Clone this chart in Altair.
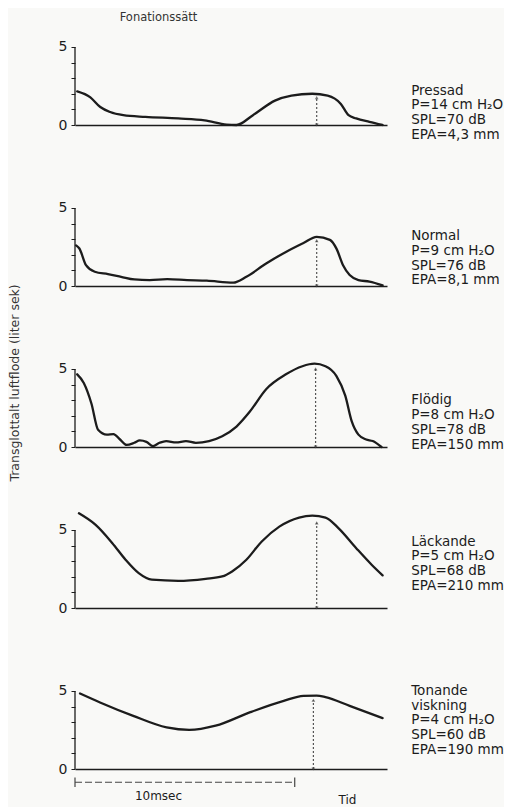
import altair as alt
import pandas as pd

# ---------------- data: time (msec) and transglottal airflow (liter/sek) ----------------
t_pressad = [0.1, 0.7, 1.15, 1.6, 2.2, 3.2, 4.7, 5.9, 6.9, 7.35, 8.1, 9.1, 9.85, 10.8, 11.5, 12.1, 12.45, 12.8, 13.4, 14.0]
v_pressad = [2.15, 1.77, 1.15, 0.83, 0.63, 0.52, 0.42, 0.3, 0.03, 0.0, 0.63, 1.56, 1.88, 2.0, 1.88, 1.35, 0.63, 0.42, 0.2, 0.0]

t_normal = [0.05, 0.2, 0.5, 0.9, 1.5, 2.1, 2.7, 3.4, 4.2, 5.1, 6.0, 7.2, 7.8, 8.7, 9.6, 10.4, 11.0, 11.6, 11.9, 12.2, 12.5, 12.9, 13.4, 14.0]
v_normal = [2.6, 2.4, 1.33, 0.91, 0.76, 0.59, 0.42, 0.38, 0.44, 0.38, 0.34, 0.21, 0.59, 1.44, 2.18, 2.75, 3.15, 2.95, 2.39, 1.33, 0.70, 0.38, 0.28, 0.04]

t_flodig = [0.1, 0.4, 0.75, 1.05, 1.45, 1.75, 2.05, 2.35, 2.7, 2.95, 3.25, 3.55, 3.85, 4.15, 4.6, 5.05, 5.5, 6.1, 6.7, 7.35, 7.95, 8.7, 9.6, 10.35, 10.9, 11.4, 11.9, 12.3, 12.6, 12.9, 13.25, 13.55, 13.95]
v_flodig = [4.65, 4.1, 2.77, 1.1, 0.79, 0.83, 0.48, 0.13, 0.27, 0.42, 0.33, 0.06, 0.27, 0.38, 0.29, 0.38, 0.27, 0.38, 0.69, 1.31, 2.25, 3.7, 4.65, 5.17, 5.33, 5.17, 4.54, 3.29, 1.62, 0.79, 0.48, 0.38, 0.0]

t_lackande = [0.18, 0.94, 1.7, 2.3, 2.9, 3.5, 4.7, 5.95, 6.7, 7.15, 7.8, 8.5, 9.3, 10.2, 10.8, 11.4, 12.0, 12.8, 13.5, 14.0]
v_lackande = [6.06, 5.32, 4.15, 3.09, 2.23, 1.81, 1.74, 1.87, 2.02, 2.34, 3.09, 4.26, 5.21, 5.79, 5.91, 5.79, 5.1, 3.83, 2.77, 2.09]

t_tonande = [0.23, 1.14, 2.65, 4.17, 5.2, 6.4, 7.95, 9.5, 10.4, 11.0, 11.4, 12.5, 14.0]
v_tonande = [4.83, 4.26, 3.4, 2.66, 2.5, 2.77, 3.62, 4.36, 4.68, 4.7, 4.6, 4.04, 3.26]

peak_t = [11.0, 11.0, 10.95, 11.0, 10.85]
peak_top = [1.75, 2.9, 5.0, 5.45, 4.4]

label_lines = [
    ["Pressad", "P=14 cm H₂O", "SPL=70 dB", "EPA=4,3 mm"],
    ["Normal", "P=9 cm H₂O", "SPL=76 dB", "EPA=8,1 mm"],
    ["Flödig", "P=8 cm H₂O", "SPL=78 dB", "EPA=150 mm"],
    ["Läckande", "P=5 cm H₂O", "SPL=68 dB", "EPA=210 mm"],
    ["Tonande", "viskning", "P=4 cm H₂O", "SPL=60 dB", "EPA=190 mm"],
]
label_top = [2.2, 3.2, 3.0, 4.25, 5.0]
label_t = 15.3

title_text = "Fonationssätt"
y_title = "Transglottalt luftflode (liter sek)"
scale_text = "10msec"
time_text = "Tid"
y_ticks = [0, 1, 2, 3, 4, 5]

series = [
    (t_pressad, v_pressad), (t_normal, v_normal), (t_flodig, v_flodig),
    (t_lackande, v_lackande), (t_tonande, v_tonande),
]

# ---------------- styling ----------------
W, H = 312, 100
XMAX, YMAX = 14.2, 6.4
FONT = "DejaVu Sans"
INK = "#1c1c1c"
xs = alt.Scale(domain=[0, XMAX], nice=False, zero=False)
ys = alt.Scale(domain=[0, YMAX], nice=False, zero=False)

XAX = alt.Axis(labels=False, ticks=False, grid=False, title=None, domainColor=INK, domainWidth=1.3)
YAX = alt.Axis(values=y_ticks, grid=False, title=None, domain=False,
               tickSize=4, tickColor=INK, tickWidth=1,
               labelExpr="datum.value == 0 || datum.value == 5 ? datum.label : ''",
               labelFont=FONT, labelFontSize=14, labelColor=INK, labelPadding=4)


def X(field):
    return alt.X(field, type="quantitative", scale=xs, axis=XAX)


def Y(field):
    return alt.Y(field, type="quantitative", scale=ys, axis=YAX)


def panel(i):
    t, v = series[i]
    df = pd.DataFrame({"t": t, "v": v})
    line = alt.Chart(df).mark_line(
        color=INK, strokeWidth=2.3, interpolate="monotone", strokeJoin="round", strokeCap="round"
    ).encode(x=X("t"), y=Y("v"))

    axis_rule = alt.Chart(pd.DataFrame({"t": [0], "a": [0], "b": [5]})).mark_rule(
        color=INK, strokeWidth=1.3
    ).encode(x=X("t"), y=Y("a"), y2="b")

    pk = pd.DataFrame({"t": [peak_t[i]], "a": [0.0], "b": [peak_top[i]]})
    dotted = alt.Chart(pk).mark_rule(color="#555", strokeWidth=1.2, strokeDash=[2, 2]).encode(
        x=X("t"), y=Y("a"), y2="b")
    top_mark = alt.Chart(pk).mark_point(shape="triangle-up", filled=True, size=14, color="#444").encode(
        x=X("t"), y=Y("b"))
    bot_mark = alt.Chart(pk).mark_point(shape="triangle-down", filled=True, size=14, color="#444").encode(
        x=X("t"), y=Y("a"))

    lab = pd.DataFrame({"t": [label_t], "y": [label_top[i]], "txt": ["\n".join(label_lines[i])]})
    text = alt.Chart(lab).mark_text(
        align="left", baseline="middle", font=FONT, fontSize=13.5, color=INK, lineBreak="\n", lineHeight=14.8
    ).encode(x=X("t"), y=Y("y"), text="txt:N")

    layers = [line, dotted, top_mark, bot_mark, axis_rule, text]

    if i == 0:
        tt = pd.DataFrame({"t": [3.8], "y": [6.85], "txt": [title_text]})
        layers.append(alt.Chart(tt).mark_text(font=FONT, fontSize=11.5, color="#333", baseline="middle").encode(
            x=X("t"), y=Y("y"), text="txt:N"))
    if i == 2:
        yt = pd.DataFrame({"t": [-2.75], "y": [4.1], "txt": [y_title]})
        layers.append(alt.Chart(yt).mark_text(font=FONT, fontSize=12.5, color="#333", angle=270,
                                              baseline="middle", align="center").encode(
            x=X("t"), y=Y("y"), text="txt:N"))
    if i == 4:
        sb = pd.DataFrame({"a": [0.0], "b": [10.0], "y": [-0.85]})
        layers.append(alt.Chart(sb).mark_rule(color="#444", strokeWidth=1.1, strokeDash=[7, 3]).encode(
            x=X("a"), x2="b", y=Y("y")))
        ends = pd.DataFrame({"t": [0.0, 10.0], "a": [-0.55, -0.55], "b": [-1.15, -1.15]})
        layers.append(alt.Chart(ends).mark_rule(color="#444", strokeWidth=1.2).encode(
            x=X("t"), y=Y("a"), y2="b"))
        st = pd.DataFrame({"t": [3.8, 12.4], "y": [-1.75, -2.0], "txt": [scale_text, time_text]})
        layers.append(alt.Chart(st).mark_text(font=FONT, fontSize=12, color=INK, baseline="middle").encode(
            x=X("t"), y=Y("y"), text="txt:N"))

    return alt.layer(*layers).properties(width=W, height=H)


chart = alt.vconcat(*[panel(i) for i in range(5)], spacing=61, bounds="flush").properties(
    padding={"left": 0, "top": 3, "right": 0, "bottom": 0}, background="#f9f9f7"
).configure_view(stroke=None)

chart.save("out.html", embed_options={"renderer": "svg", "actions": False})
